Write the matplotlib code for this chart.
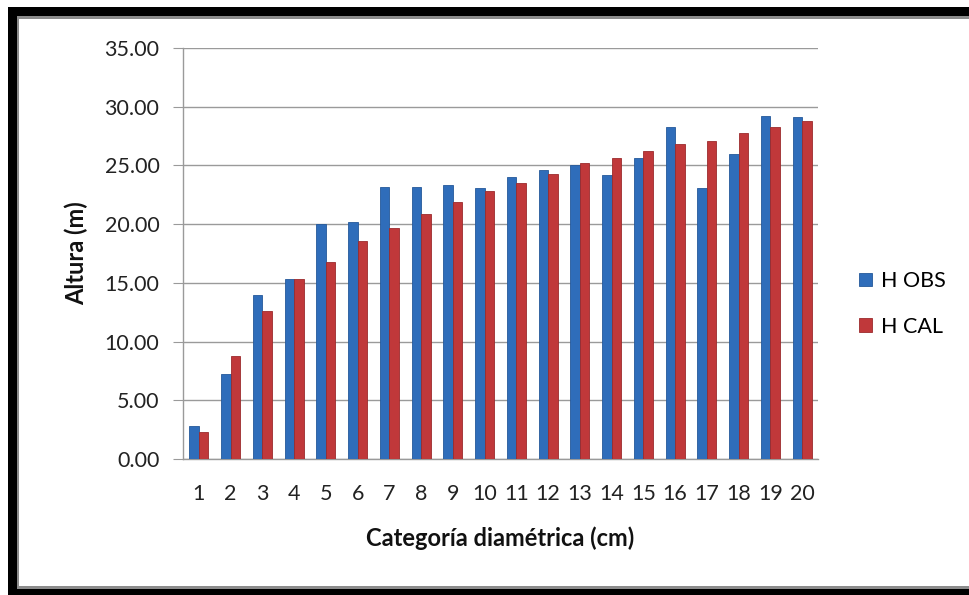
import matplotlib
matplotlib.use("Agg")
from matplotlib import pyplot as plt
from matplotlib.patches import Rectangle
import numpy as np

plt.rcParams['font.family'] = ['Lato', 'DejaVu Sans']

# Data
categorias = [str(i) for i in range(1, 21)]
h_obs = [2.8, 7.2, 14.0, 15.3, 20.0, 20.2, 23.2, 23.2, 23.3, 23.1,
         24.0, 24.6, 25.0, 24.2, 25.6, 28.3, 23.1, 26.0, 29.2, 29.1]
h_cal = [2.3, 8.8, 12.6, 15.3, 16.8, 18.6, 19.7, 20.9, 21.9, 22.8,
         23.5, 24.3, 25.2, 25.6, 26.2, 26.8, 27.1, 27.8, 28.3, 28.8]
yticks = [0, 5, 10, 15, 20, 25, 30, 35]

W, H = 969, 595
fig = plt.figure(figsize=(W / 100, H / 100), dpi=100, facecolor='white')

# frame around the chart (black border, thin grey inner line)
def px_rect(x0, y0, x1, y1, color, z):
    # pixel coords with origin at top-left
    fig.add_artist(Rectangle((x0 / W, 1 - y1 / H), (x1 - x0) / W, (y1 - y0) / H,
                             transform=fig.transFigure, facecolor=color,
                             edgecolor='none', zorder=z))

px_rect(8, 7, W + 5, H + 5, 'black', -10)
px_rect(17, 16, W + 5, 589, '#8c8c8c', -9)
px_rect(19, 19, W + 5, 586, 'white', -8)

ax = fig.add_axes([183 / W, 1 - 459 / H, (818 - 183) / W, (459 - 48) / H])
ax.set_facecolor('none')

x = np.arange(1, len(categorias) + 1)
w = 0.3
ax.bar(x - w / 2, h_obs, width=w, color='#2f6dba', edgecolor='#24589a',
       linewidth=0.6, label='H OBS', zorder=3)
ax.bar(x + w / 2, h_cal, width=w, color='#c0383a', edgecolor='#9c2a2c',
       linewidth=0.6, label='H CAL', zorder=3)

ax.set_xlim(0.5, 20.5)
ax.set_ylim(0, 35)
ax.set_yticks(yticks)
ax.set_yticklabels([f"{v:.2f}" for v in yticks])
ax.set_xticks(x)
ax.set_xticklabels(categorias)
ax.grid(axis='y', color='#9a9a9a', linewidth=1.0, zorder=0)
ax.set_axisbelow(True)

for s in ['top', 'right']:
    ax.spines[s].set_visible(False)
for s in ['left', 'bottom']:
    ax.spines[s].set_color('#9a9a9a')
    ax.spines[s].set_linewidth(1.0)

ax.tick_params(axis='y', direction='out', length=7, color='#9a9a9a',
               labelsize=15.5, pad=10, labelcolor='#222222')
ax.tick_params(axis='x', length=0, labelsize=15.5, pad=18, labelcolor='#222222')

ax.set_xlabel('Categoría diamétrica (cm)', fontsize=17, fontweight='bold',
              labelpad=16, color='#111111')
ax.set_ylabel('Altura (m)', fontsize=17, fontweight='bold', labelpad=12,
              color='#111111')

fig.legend(loc='center left', bbox_to_anchor=(840 / W, 1 - 304 / H),
           frameon=False, fontsize=15.5, handlelength=0.6, handleheight=0.6,
           handletextpad=0.4, labelspacing=1.2)

fig.savefig('out.png', dpi=100, facecolor='white')
